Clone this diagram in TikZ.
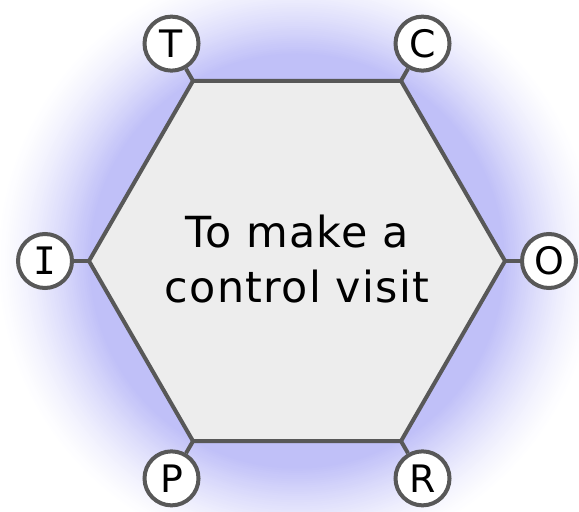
\documentclass[tikz,border=0pt]{standalone}
\usepackage{fontspec}
\setmainfont{DejaVu Sans}
\newfontfamily\serifI{DejaVu Sans Mono}
\definecolor{edgec}{RGB}{88,88,88}
\definecolor{hexfill}{RGB}{237,237,237}
\definecolor{glowc}{RGB}{192,192,248}
\begin{document}
\begin{tikzpicture}[x=1bp,y=1bp,
  letter/.style={circle,draw=edgec,fill=white,line width=4bp,minimum size=54bp,inner sep=0pt,
    font=\fontsize{38}{38}\selectfont},
  link/.style={draw=edgec,line width=4bp},
  hexside/.style={draw=edgec,fill=hexfill,line width=4bp,line join=miter}]
\useasboundingbox (0,0) rectangle (579,512);
\clip (0,0) rectangle (579,512);
\coordinate (c) at (297,251);
% soft halo: concentric discs fading from white to lavender
\foreach \i in {0,...,45} {
  \pgfmathsetmacro\r{302-2.1*\i}
  \pgfmathsetmacro\t{\i/45}
  \pgfmathsetmacro\f{100*\t^1.4}
  \fill[glowc!\f!white] (c) circle (\r);
}
% hexagon corners
\foreach \a/\n in {0/vO,60/vC,120/vT,180/vI,240/vP,300/vR}
  \coordinate (\n) at ([shift={(\a:208)}]c);
\path[hexside] (vO) -- (vC) -- (vT) -- (vI) -- (vP) -- (vR) -- cycle;
\node[align=center,font=\fontsize{43}{55}\selectfont\addfontfeature{LetterSpace=3}] (title) at ([yshift=2]c) {To make a\\control visit};
% letter badges on the corners
\node[letter] (T) at ([shift={(120:251)}]c) {T};
\node[letter] (C) at ([shift={(60:251)}]c) {C};
\node[letter] (I) at ([shift={(180:252)}]c) {\serifI I};
\node[letter] (O) at ([shift={(0:252)}]c) {O};
\node[letter] (P) at ([shift={(240:251)}]c) {P};
\node[letter] (R) at ([shift={(300:251)}]c) {R};
\foreach \n in {T,C,I,O,P,R}
  \draw[link] (\n) -- (v\n);
\end{tikzpicture}
\end{document}
